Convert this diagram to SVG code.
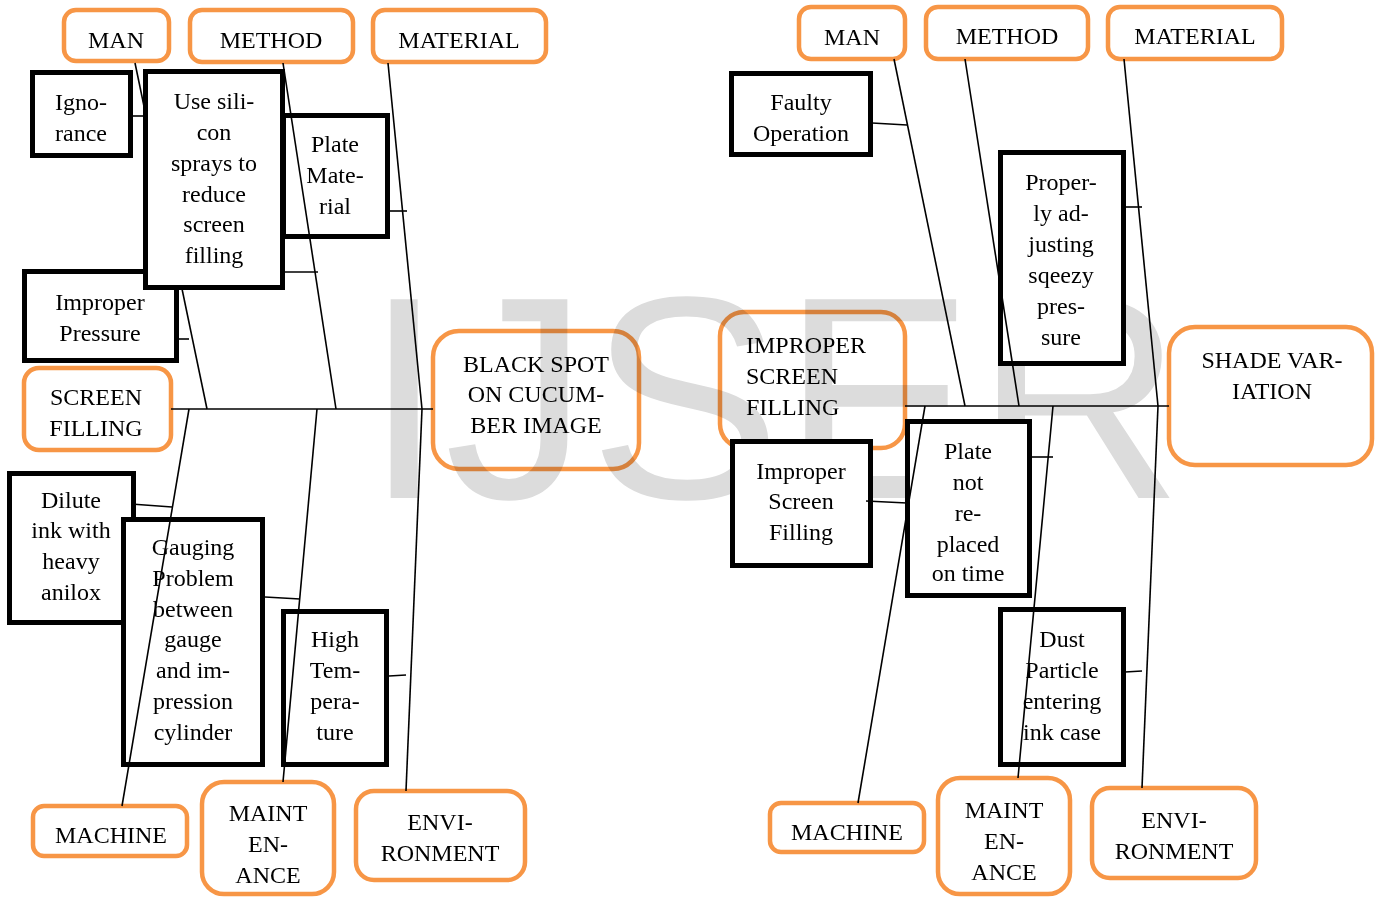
<svg xmlns="http://www.w3.org/2000/svg" width="1377" height="898" viewBox="0 0 1377 898">
  <style>
    .wm { font-family: "Liberation Sans", Arial, sans-serif; font-size: 289px; fill: #dcdcdc; }
    .cat rect { fill: none; stroke: #f79646; stroke-width: 4.5; }
    .cat { mix-blend-mode: multiply; }
    .cause rect { fill: #fff; stroke: #000; stroke-width: 5; }
    text.t { font-family: "Liberation Serif", "Times New Roman", serif; font-size: 24px; fill: #000; text-anchor: middle; }
    text.l { text-anchor: start; }
    .bone { stroke: #000; stroke-width: 1.6; fill: none; stroke-linecap: butt; }
  </style>

  <!-- background watermark -->
  <text class="wm" x="364" y="498">IJSER</text>

  <!-- ===== left fishbone: category heads ===== -->
  <g id="l-man" class="cat"><rect x="64" y="10" width="105" height="51" rx="12"/></g>
  <g id="l-method" class="cat"><rect x="190" y="10" width="163" height="52" rx="12"/></g>
  <g id="l-material" class="cat"><rect x="373" y="10" width="173" height="52" rx="12"/></g>
  <g id="l-screen" class="cat"><rect x="24" y="368" width="147" height="82" rx="15"/></g>
  <g id="l-effect" class="cat"><rect x="433" y="331" width="206" height="138" rx="26"/></g>
  <g id="l-machine" class="cat"><rect x="33" y="806" width="154" height="50" rx="11"/></g>
  <g id="l-maint" class="cat"><rect x="202" y="782" width="132" height="112" rx="22"/></g>
  <g id="l-env" class="cat"><rect x="356" y="791" width="169" height="89" rx="18"/></g>

  <!-- ===== right fishbone: category heads ===== -->
  <g id="r-man" class="cat"><rect x="799" y="7" width="106" height="52" rx="12"/></g>
  <g id="r-method" class="cat"><rect x="926" y="7" width="162" height="52" rx="12"/></g>
  <g id="r-material" class="cat"><rect x="1108" y="7" width="174" height="52" rx="12"/></g>
  <g id="r-screen" class="cat"><rect x="720" y="312" width="185" height="136" rx="24"/></g>
  <g id="r-effect" class="cat"><rect x="1169" y="327" width="203" height="138" rx="26"/></g>
  <g id="r-machine" class="cat"><rect x="770" y="803" width="154" height="49" rx="11"/></g>
  <g id="r-maint" class="cat"><rect x="938" y="778" width="132" height="116" rx="22"/></g>
  <g id="r-env" class="cat"><rect x="1092" y="788" width="164" height="90" rx="18"/></g>

  <!-- ===== cause boxes ===== -->
  <g id="l-ignorance" class="cause"><rect x="32.5" y="72.5" width="98" height="83"/></g>
  <g id="l-plate-material" class="cause"><rect x="283.5" y="115.5" width="104" height="121"/></g>
  <g id="l-pressure" class="cause"><rect x="24.5" y="271.5" width="152" height="89"/></g>
  <g id="l-dilute" class="cause"><rect x="9.5" y="473.5" width="124" height="149"/></g>
  <g id="l-gauging" class="cause"><rect x="123.5" y="519.5" width="139" height="245"/></g>
  <g id="l-temperature" class="cause"><rect x="283.5" y="611.5" width="103" height="153"/></g>

  <g id="r-faulty" class="cause"><rect x="731.5" y="73.5" width="139" height="81"/></g>
  <g id="r-squeegee" class="cause"><rect x="1000.5" y="152.5" width="123" height="211"/></g>
  <g id="r-improper" class="cause"><rect x="732.5" y="441.5" width="138" height="124"/></g>
  <g id="r-plate" class="cause"><rect x="907.5" y="421.5" width="122" height="174"/></g>
  <g id="r-dust" class="cause"><rect x="1000.5" y="609.5" width="123" height="155"/></g>

  <!-- ===== connectors ===== -->
  <g id="connectors" class="bone">
    <!-- left spine and bones -->
    <line x1="171" y1="409" x2="433" y2="409"/>
    <line x1="135" y1="63" x2="207" y2="409"/>
    <line x1="283" y1="63" x2="336" y2="409"/>
    <line x1="388" y1="63" x2="422" y2="409"/>
    <line x1="189" y1="409" x2="122" y2="806"/>
    <line x1="317" y1="409" x2="283" y2="782"/>
    <line x1="422" y1="409" x2="406" y2="791"/>
    <!-- left twigs -->
    <line x1="133" y1="116" x2="143" y2="116"/>
    <line x1="179" y1="339" x2="189" y2="339"/>
    <line x1="285" y1="272" x2="318" y2="272"/>
    <line x1="389" y1="211" x2="407" y2="211"/>
    <line x1="131" y1="504" x2="172" y2="507"/>
    <line x1="265" y1="597" x2="300" y2="599"/>
    <line x1="389" y1="676" x2="406" y2="675"/>

    <!-- right spine and bones -->
    <line x1="905" y1="406" x2="1169" y2="406"/>
    <line x1="894" y1="59" x2="965" y2="406"/>
    <line x1="965" y1="59" x2="1019" y2="406"/>
    <line x1="1124" y1="59" x2="1158" y2="406"/>
    <line x1="925" y1="406" x2="858" y2="803"/>
    <line x1="1053" y1="406" x2="1018" y2="778"/>
    <line x1="1158" y1="406" x2="1142" y2="788"/>
    <!-- right twigs -->
    <line x1="872" y1="123" x2="907" y2="125"/>
    <line x1="1125" y1="207" x2="1142" y2="207"/>
    <line x1="866" y1="501" x2="907" y2="503"/>
    <line x1="1031" y1="457" x2="1053" y2="457"/>
    <line x1="1125" y1="672" x2="1142" y2="671"/>
  </g>

  <!-- tall method box sits over the man bone -->
  <g id="l-silicon" class="cause"><rect x="145.5" y="71.5" width="137" height="216"/></g>

  <!-- ===== labels ===== -->
  <g id="labels">
    <text class="t" x="116" y="48">MAN</text>
    <text class="t" x="271" y="48">METHOD</text>
    <text class="t" x="459" y="48">MATERIAL</text>
    <text class="t" x="81" y="110">Igno-</text>
    <text class="t" x="81" y="141">rance</text>
    <text class="t" x="214" y="109">Use sili-</text>
    <text class="t" x="214" y="140">con</text>
    <text class="t" x="214" y="171">sprays to</text>
    <text class="t" x="214" y="202">reduce</text>
    <text class="t" x="214" y="232">screen</text>
    <text class="t" x="214" y="263">filling</text>
    <text class="t" x="335" y="152">Plate</text>
    <text class="t" x="335" y="183">Mate-</text>
    <text class="t" x="335" y="214">rial</text>
    <text class="t" x="100" y="310">Improper</text>
    <text class="t" x="100" y="341">Pressure</text>
    <text class="t" x="96" y="405">SCREEN</text>
    <text class="t" x="96" y="436">FILLING</text>
    <text class="t" x="536" y="372">BLACK SPOT</text>
    <text class="t" x="536" y="402">ON CUCUM-</text>
    <text class="t" x="536" y="433">BER IMAGE</text>
    <text class="t" x="71" y="508">Dilute</text>
    <text class="t" x="71" y="538">ink with</text>
    <text class="t" x="71" y="569">heavy</text>
    <text class="t" x="71" y="600">anilox</text>
    <text class="t" x="193" y="555">Gauging</text>
    <text class="t" x="193" y="586">Problem</text>
    <text class="t" x="193" y="617">between</text>
    <text class="t" x="193" y="647">gauge</text>
    <text class="t" x="193" y="678">and im-</text>
    <text class="t" x="193" y="709">pression</text>
    <text class="t" x="193" y="740">cylinder</text>
    <text class="t" x="335" y="647">High</text>
    <text class="t" x="335" y="678">Tem-</text>
    <text class="t" x="335" y="709">pera-</text>
    <text class="t" x="335" y="740">ture</text>
    <text class="t" x="111" y="843">MACHINE</text>
    <text class="t" x="268" y="821">MAINT</text>
    <text class="t" x="268" y="852">EN-</text>
    <text class="t" x="268" y="883">ANCE</text>
    <text class="t" x="440" y="830">ENVI-</text>
    <text class="t" x="440" y="861">RONMENT</text>

    <text class="t" x="852" y="45">MAN</text>
    <text class="t" x="1007" y="44">METHOD</text>
    <text class="t" x="1195" y="44">MATERIAL</text>
    <text class="t" x="801" y="110">Faulty</text>
    <text class="t" x="801" y="141">Operation</text>
    <text class="t l" x="746" y="353">IMPROPER</text>
    <text class="t l" x="746" y="384">SCREEN</text>
    <text class="t l" x="746" y="415">FILLING</text>
    <text class="t" x="1061" y="190">Proper-</text>
    <text class="t" x="1061" y="221">ly ad-</text>
    <text class="t" x="1061" y="252">justing</text>
    <text class="t" x="1061" y="283">sqeezy</text>
    <text class="t" x="1061" y="314">pres-</text>
    <text class="t" x="1061" y="345">sure</text>
    <text class="t" x="1272" y="368">SHADE VAR-</text>
    <text class="t" x="1272" y="399">IATION</text>
    <text class="t" x="801" y="479">Improper</text>
    <text class="t" x="801" y="509">Screen</text>
    <text class="t" x="801" y="540">Filling</text>
    <text class="t" x="968" y="459">Plate</text>
    <text class="t" x="968" y="490">not</text>
    <text class="t" x="968" y="521">re-</text>
    <text class="t" x="968" y="552">placed</text>
    <text class="t" x="968" y="581">on time</text>
    <text class="t" x="1062" y="647">Dust</text>
    <text class="t" x="1062" y="678">Particle</text>
    <text class="t" x="1062" y="709">entering</text>
    <text class="t" x="1062" y="740">ink case</text>
    <text class="t" x="847" y="840">MACHINE</text>
    <text class="t" x="1004" y="818">MAINT</text>
    <text class="t" x="1004" y="849">EN-</text>
    <text class="t" x="1004" y="880">ANCE</text>
    <text class="t" x="1174" y="828">ENVI-</text>
    <text class="t" x="1174" y="859">RONMENT</text>
  </g>
</svg>
